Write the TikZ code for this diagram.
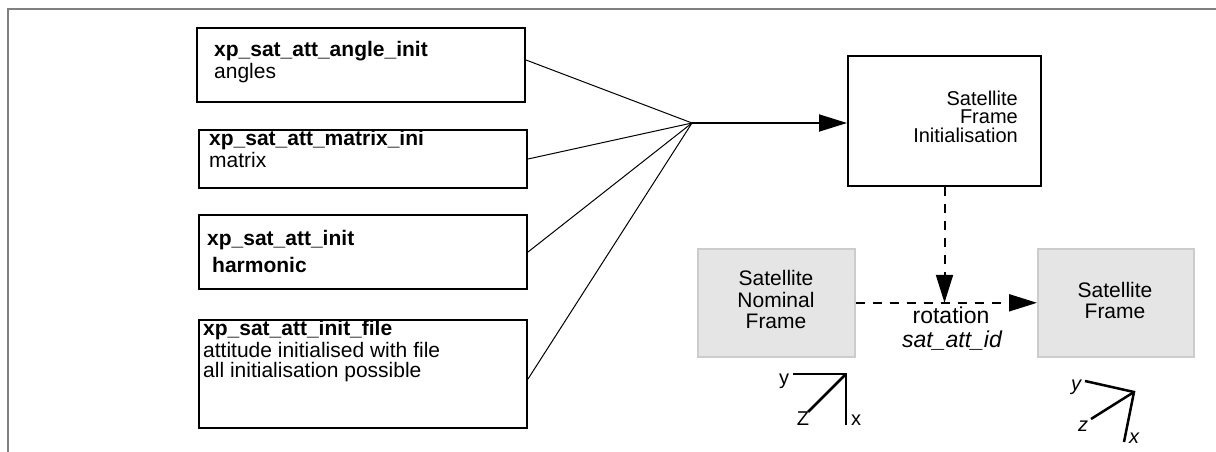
\documentclass[tikz,border=0pt]{standalone}
\usepackage{fontspec}
\setmainfont{Liberation Sans}
\usetikzlibrary{arrows.meta,calc}
\begin{document}
\begin{tikzpicture}[x=1pt,y=-1pt,
  box/.style={draw=black,line width=2pt,fill=white,inner sep=0pt,anchor=north west},
  gbox/.style={draw=black!20,line width=1.6pt,fill=black!10,inner sep=0pt,anchor=north west},
  txt/.style={inner sep=0pt,anchor=base west,font=\fontsize{21}{22}\selectfont},
  btxt/.style={inner sep=0pt,anchor=base west,font=\fontsize{21}{22}\selectfont\bfseries},
  ctxt/.style={inner sep=0pt,anchor=base,font=\fontsize{21}{22}\selectfont},
  rtxt/.style={inner sep=0pt,anchor=base east,font=\fontsize{20}{18}\selectfont},
  axlbl/.style={inner sep=0pt,anchor=base,font=\fontsize{20}{20}\selectfont},
  axlbli/.style={inner sep=0pt,anchor=base,font=\fontsize{20}{20}\selectfont\itshape},
  feed/.style={draw=black,line width=1pt},
  mainarr/.style={draw=black,line width=1.8pt,-{Triangle[length=28pt,width=17pt]}},
  dsh/.style={draw=black,line width=2pt,dash pattern=on 9pt off 8pt,-{Triangle[length=28pt,width=17pt]}},
  axis/.style={draw=black,line width=2.5pt},
  frameline/.style={draw=gray,line width=2.7pt}
]
\useasboundingbox (0,0) rectangle (1216,452);
\draw[frameline] (8,452) -- (8,9) -- (1216,9);

% left boxes
\node[box,minimum width=328pt,minimum height=74pt] (b1) at (196,27) {};
\node[box,minimum width=328pt,minimum height=58pt] (b2) at (198,129) {};
\node[box,minimum width=328pt,minimum height=74pt] (b3) at (198,214) {};
\node[box,minimum width=328pt,minimum height=108pt] (b4) at (198,319) {};

\node[btxt] (b1a) at (214,57) {xp\_sat\_att\_angle\_init};
\node[txt]  (b1b) at (214,79) {angles};
\node[btxt] (b2a) at (209,145) {xp\_sat\_att\_matrix\_ini};
\node[txt]  (b2b) at (209,167) {matrix};
\node[btxt] (b3a) at (207,245) {xp\_sat\_att\_init};
\node[btxt] (b3b) at (212,272) {harmonic};
\node[btxt] (b4a) at (203,335) {xp\_sat\_att\_init\_file};
\node[txt]  (b4b) at (203,357) {attitude initialised with file};
\node[txt]  (b4c) at (203,377) {all initialisation possible};

% satellite frame initialisation
\node[box,minimum width=193pt,minimum height=130pt] (sfi) at (847,55) {};
\node[rtxt] (sfi1) at (1018,106) {Satellite};
\node[rtxt] (sfi2) at (1018,124) {Frame};
\node[rtxt] (sfi3) at (1018,142) {Initialisation};

% gray boxes
\node[gbox,minimum width=157pt,minimum height=108pt] (snf) at (697,248) {};
\node[ctxt] (snf1) at (776,285) {Satellite};
\node[ctxt] (snf2) at (776,307) {Nominal};
\node[ctxt] (snf3) at (776,328) {Frame};

\node[gbox,minimum width=156pt,minimum height=108pt] (sf) at (1037,248) {};
\node[ctxt] (sf1) at (1115,297) {Satellite};
\node[ctxt] (sf2) at (1115,318) {Frame};

% connectors
\coordinate (J) at (692,123);
\draw[feed] ([yshift=5pt]b1.east) -- (J);
\draw[feed] (b2.east) -- (J);
\draw[feed] (b3.east) -- (J);
\draw[feed] ([yshift=-5pt]b4.east) -- (J);
\draw[mainarr] (J) -- (J -| sfi.west);

\draw[dsh] (sfi.south) -- (sfi.south |- snf.east);
\draw[dsh] (snf.east) -- (sf.west);
\node[inner sep=0pt,anchor=base,font=\fontsize{23}{24}\selectfont] (rot) at (951,323) {rotation};
\node[inner sep=0pt,anchor=base,font=\fontsize{23}{24}\selectfont\itshape] (rotid) at (952,347) {sat\_att\_id};

% axes nominal
\coordinate (A1) at (846,374);
\draw[axis] (793,374) -- (A1) -- (846,425);
\draw[axis] (A1) -- (808,412);
\node[axlbl] (a1y) at (784,384) {y};
\node[axlbl] (a1z) at (803,425) {Z};
\node[axlbl] (a1x) at (856,425) {x};

% axes satellite
\coordinate (A2) at (1134,392);
\draw[axis] (1085,381) -- (A2) -- (1124,442);
\draw[axis] (A2) -- (1091,419);
\node[axlbli] (a2y) at (1076,390) {y};
\node[axlbli] (a2z) at (1083,431) {z};
\node[axlbli] (a2x) at (1134,443) {x};
\end{tikzpicture}
\end{document}
